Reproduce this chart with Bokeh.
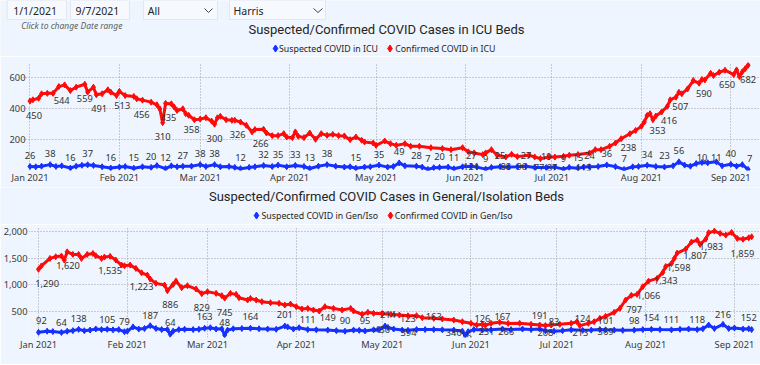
import numpy as np
from bokeh.plotting import figure
from bokeh.layouts import column
from bokeh.models import (ColumnDataSource, Range1d, FixedTicker, DatetimeTickFormatter,
                          NumeralTickFormatter, LabelSet)
from bokeh.core.properties import value
from bokeh.embed import file_html
from bokeh.resources import INLINE

START = np.datetime64("2021-01-01")

# ---------------- filter bar ----------------
filter_labels = ["1/1/2021", "9/7/2021", "All", "Harris"]
date_hint = "Click to change Date range"

# ---------------- ICU chart ----------------
icu_title = "Suspected/Confirmed COVID Cases in ICU Beds"
icu_names = ["Suspected COVID in ICU", "Confirmed COVID in ICU"]
icu_yticks = [200, 400, 600]

icu_conf_days = [0, 1, 3, 4, 6, 8, 10, 12, 14, 16, 19, 20, 22, 23, 25, 27, 28, 30, 31, 33, 36, 37, 39, 42,
                 44, 45, 46, 47, 49, 50, 51, 53, 54, 55, 57, 59, 61, 63, 64, 65, 66, 68, 70, 71, 73, 75,
                 77, 78, 81, 82, 84, 86, 88, 89, 91, 92, 93, 95, 97, 99, 101, 103, 105, 107, 109, 111,
                 113, 115, 116, 119, 120, 123, 125, 127, 130, 132, 135, 139, 143, 146, 150, 152, 154, 157,
                 158, 160, 162, 165, 167, 169, 173, 175, 177, 180, 182, 185, 187, 190, 194, 196, 198, 201,
                 203, 205, 208, 210, 212, 213, 214, 215, 216, 217, 219, 221, 222, 224, 225, 226, 228, 230,
                 232, 233, 234, 236, 237, 239, 241, 244, 245, 246, 247, 248, 249]
icu_conf = [450, 458, 468, 497, 500, 500, 544, 555, 518, 540, 559, 508, 540, 491, 497, 523, 508, 486, 513,
            486, 480, 465, 456, 443, 426, 400, 310, 435, 432, 411, 389, 400, 368, 358, 329, 333, 342, 320,
            300, 342, 351, 329, 325, 326, 314, 293, 250, 266, 267, 243, 226, 226, 239, 217, 213, 250, 222,
            213, 243, 202, 239, 228, 234, 226, 224, 200, 217, 196, 185, 178, 163, 191, 174, 163, 174, 157,
            157, 148, 142, 135, 148, 121, 114, 103, 114, 135, 99, 88, 105, 90, 99, 88, 77, 88, 87, 92, 99,
            103, 113, 135, 135, 157, 178, 206, 238, 260, 286, 314, 357, 368, 329, 353, 379, 416, 458, 475,
            507, 497, 529, 583, 566, 590, 587, 630, 615, 637, 650, 622, 652, 609, 640, 660, 682]

icu_susp_days = [0, 2, 4, 7, 9, 11, 14, 16, 18, 20, 22, 25, 28, 31, 33, 36, 39, 42, 44, 47, 49, 51, 53,
                 56, 59, 61, 64, 66, 69, 71, 73, 76, 78, 81, 84, 86, 89, 92, 95, 97, 100, 103, 106, 109,
                 111, 113, 116, 118, 121, 124, 126, 128, 130, 134, 136, 138, 140, 142, 145, 147, 150, 153,
                 155, 158, 160, 163, 166, 169, 172, 175, 179, 182, 185, 187, 190, 192, 194, 197, 200, 203,
                 206, 209, 211, 214, 217, 220, 223, 225, 227, 229, 231, 233, 235, 238, 240, 243, 245, 247, 249]
icu_susp = [26, 24, 28, 38, 26, 30, 16, 28, 34, 37, 33, 24, 16, 22, 26, 15, 24, 20, 32, 12, 30, 24, 27,
            28, 38, 26, 38, 24, 26, 20, 12, 20, 24, 32, 26, 35, 24, 33, 26, 13, 28, 38, 28, 22, 24, 15,
            22, 24, 35, 22, 26, 49, 30, 28, 22, 7, 18, 20, 22, 11, 24, 27, 22, 9, 20, 25, 22, 24, 27, 20,
            19, 22, 9, 20, 15, 22, 24, 26, 36, 25, 7, 24, 26, 34, 26, 23, 30, 56, 35, 28, 45, 52, 50, 56,
            30, 40, 28, 38, 7]

# data labels shown on the ICU chart
icu_susp_lab_days = [0, 7, 14, 20, 28, 36, 42, 47, 53, 59, 64, 73, 81, 86, 92, 97, 103, 113, 121, 128,
                     134, 138, 142, 147, 153, 158, 163, 172, 179, 185, 190, 194, 200, 206, 214, 220, 225,
                     233, 238, 243, 249.5]
icu_susp_lab_vals = [26, 38, 16, 37, 16, 15, 20, 12, 27, 38, 38, 12, 32, 35, 33, 13, 38, 15, 35, 49, 28,
                     7, 20, 11, 27, 9, 25, 27, 19, 9, 15, 24, 36, 7, 34, 23, 56, 10, 11, 40, 7]
icu_conf_lab_days = [1.4, 11, 19, 24, 32, 38.7, 46, 48, 56, 64, 72, 80, 207.5, 217.6, 221.6, 225.5,
                     233.7, 241.7, 249]
icu_conf_lab_vals = [450, 544, 559, 491, 513, 456, 310, 435, 358, 300, 326, 266, 238, 353, 416, 507,
                     590, 650, 682]
icu_conf_on_days = [153, 165, 170.5, 176.5, 181, 192]
icu_conf_on_vals = [121, 88, 90, 77, 87, 113]

# ---------------- General / Isolation chart ----------------
gen_title = "Suspected/Confirmed COVID Cases in General/Isolation Beds"
gen_names = ["Suspected COVID in Gen/Iso", "Confirmed COVID in Gen/Iso"]
gen_yticks = [500, 1000, 1500, 2000]

gen_conf_days = [0, 1, 4, 6, 8, 9, 10, 12, 14, 15, 17, 19, 20, 22, 23, 25, 27, 29, 30, 32, 34, 36, 38,
                 39, 41, 44, 45, 47, 48, 50, 52, 55, 57, 59, 62, 64, 65, 67, 69, 70, 73, 74, 76, 78, 81,
                 84, 86, 88, 90, 92, 94, 96, 98, 100, 103, 106, 109, 110, 113, 115, 117, 120, 123, 126,
                 129, 132, 134, 138, 141, 145, 148, 151, 153, 155, 156, 158, 161, 164, 168, 172, 175, 177,
                 179, 182, 186, 188, 189, 192, 194, 196, 198, 201, 203, 205, 207, 209, 211, 213, 216, 218,
                 219, 221, 222, 223, 226, 228, 230, 231, 233, 234, 236, 238, 240, 242, 244, 246, 248, 249]
gen_conf = [1290, 1354, 1496, 1527, 1540, 1465, 1620, 1572, 1572, 1496, 1572, 1590, 1547, 1496, 1521,
            1535, 1465, 1370, 1358, 1370, 1307, 1223, 1181, 1106, 1024, 992, 886, 1005, 1068, 942, 980,
            917, 829, 866, 835, 791, 745, 835, 816, 753, 709, 740, 709, 677, 658, 646, 614, 633, 583, 539,
            551, 520, 501, 583, 551, 520, 551, 501, 438, 476, 457, 450, 438, 425, 410, 413, 375, 362, 350,
            330, 299, 268, 236, 249, 231, 268, 287, 266, 268, 249, 236, 225, 236, 249, 268, 299, 224, 268,
            299, 362, 400, 476, 551, 709, 797, 816, 961, 1066, 1118, 1232, 1343, 1400, 1496, 1598, 1673,
            1807, 1843, 1761, 1862, 1983, 2013, 1969, 1937, 1988, 1875, 1859, 1887, 1906]

gen_susp_days = [0, 3, 5, 8, 10, 12, 14, 16, 18, 20, 22, 24, 26, 28, 30, 31, 33, 35, 37, 39, 41, 43, 45,
                 46, 47, 49, 51, 54, 56, 58, 60, 62, 64, 65, 66, 68, 71, 74, 77, 80, 83, 86, 87, 89, 91,
                 94, 97, 101, 104, 107, 110, 112, 114, 117, 119, 121, 122, 124, 127, 129, 132, 135, 138,
                 141, 145, 148, 149, 150, 152, 155, 158, 162, 165, 169, 172, 175, 177, 180, 183, 186, 190,
                 193, 196, 198, 201, 204, 208, 211, 214, 217, 221, 224, 227, 230, 232, 234, 236, 239, 241,
                 243, 246, 248, 249]
gen_susp = [98, 120, 112, 95, 118, 130, 154, 128, 140, 161, 150, 155, 145, 150, 110, 120, 200, 160, 170,
            224, 170, 150, 150, 60, 120, 150, 155, 150, 155, 175, 185, 160, 165, 47, 140, 165, 170, 175,
            165, 160, 155, 217, 200, 160, 185, 150, 145, 140, 130, 120, 140, 135, 125, 145, 150, 217, 190,
            160, 140, 135, 150, 150, 150, 145, 140, 120, 47, 110, 150, 140, 145, 160, 150, 160, 150, 160,
            130, 120, 130, 145, 135, 140, 150, 145, 140, 135, 140, 150, 154, 150, 145, 155, 160, 150, 165,
            236, 170, 249, 170, 180, 160, 165, 150]

# data labels shown on the General/Isolation chart
gen_susp_lab_days = [1, 8, 14, 24, 30, 39, 46, 58, 65, 74, 86, 94, 101, 107, 114, 122, 129, 138, 155,
                     162, 175, 180, 190, 198, 208, 214, 221, 230, 239, 248]
gen_susp_lab_vals = [92, 64, 138, 105, 79, 187, 64, 163, 48, 164, 201, 111, 149, 90, 95, 214, 123, 163,
                     126, 167, 191, 83, 124, 101, 98, 154, 111, 118, 216, 152]
gen_conf_lab_days = [3, 10.3, 25, 36, 46, 57, 65, 208, 213, 219, 223.5, 229.3, 234.9, 245.8]
gen_conf_lab_vals = [1290, 1620, 1535, 1223, 886, 829, 745, 797, 1066, 1343, 1598, 1807, 1983, 1859]
gen_conf_on_days = [120, 129.2, 145, 149.4, 156.4, 163.3, 177, 189.2, 198]
gen_conf_on_vals = [430, 394, 340, 16, 231, 266, 208, 213, 369]

# ---------------- styling ----------------
BG = "#EEF5FE"
RED = "#FF0A0A"
BLUE = "#1530FF"
TXT = "#252423"
LBL = "#333333"
FONT = "Noto Sans"
TFONT = "Roboto"
W = 760


def to_dt(days):
    return START + (np.asarray(days, dtype=float) * 86400000).astype("timedelta64[ms]")


def to_ms(days):
    return float((to_dt([days])[0] - np.datetime64("1970-01-01")).astype("timedelta64[ms]").astype(np.int64))


month_ticks = [float((np.datetime64("2021-%02d-01" % m) - np.datetime64("1970-01-01"))
                     .astype("timedelta64[ms]").astype(np.int64)) for m in range(1, 10)]


def label_rows(days, vals, dy, anchor=None):
    days = np.asarray(days, dtype=float)
    if anchor is None:
        y = np.asarray(vals, dtype=float)
    else:
        y = np.interp(days, np.asarray(anchor[0], float), np.asarray(anchor[1], float))
    return dict(x=list(to_dt(days)), y=list(y), text=["{:,}".format(v) for v in vals], dy=[dy] * len(days))


def merge(*parts):
    out = dict(x=[], y=[], text=[], dy=[])
    for p in parts:
        for k in out:
            out[k] += p[k]
    return out


def strip(height):
    """A plain drawing strip whose data units are its own pixels (y downwards)."""
    s = figure(width=W, height=height, x_range=Range1d(0, W), y_range=Range1d(height, 0),
               output_backend="svg", toolbar_location=None, min_border=0, title=None,
               x_axis_location=None, y_axis_location=None, frame_align=False,
               background_fill_color=BG, border_fill_color=BG, outline_line_color=None)
    s.grid.visible = False
    return s


def draw_title_legend(s, title, title_y, names, legend_y, mark_x, text_x):
    s.text(x=[386], y=[title_y], text=[title], text_align="center", text_baseline="middle",
           text_font=value(TFONT), text_font_size="13px", text_color=TXT)
    s.scatter(x=mark_x, y=[legend_y] * 2, marker="diamond", size=7, color=[BLUE, RED])
    s.text(x=text_x, y=[legend_y] * 2, text=names, text_baseline="middle",
           text_font=value(FONT), text_font_size="8.8px", text_color=TXT)


def make_chart(height, min_left, y_standoff, x_start, x_end, min_top, min_bottom, ymax, yticks, yfmt,
               susp_d, susp_v, conf_d, conf_v, labels):
    p = figure(width=W, height=height, x_axis_type="datetime", title=None,
               x_range=Range1d(to_ms(x_start), to_ms(x_end)), y_range=Range1d(0, ymax),
               output_backend="svg", toolbar_location=None, frame_align=False,
               min_border_left=min_left, min_border_right=0, min_border_top=min_top,
               min_border_bottom=min_bottom, background_fill_color=BG, border_fill_color=BG,
               outline_line_color=None)

    s_src = ColumnDataSource(dict(x=to_dt(susp_d), y=np.asarray(susp_v, float)))
    c_src = ColumnDataSource(dict(x=to_dt(conf_d), y=np.asarray(conf_v, float)))
    p.line("x", "y", source=s_src, line_color=BLUE, line_width=3)
    p.scatter("x", "y", source=s_src, marker="diamond", size=6, color=BLUE)
    p.line("x", "y", source=c_src, line_color=RED, line_width=3)
    p.scatter("x", "y", source=c_src, marker="diamond", size=6, color=RED)

    lab = LabelSet(x="x", y="y", text="text", y_offset="dy", source=ColumnDataSource(labels),
                   text_font=value(FONT), text_font_size=value("9.3px"), text_color=LBL,
                   text_align="center", text_baseline="middle")
    p.add_layout(lab)

    p.xaxis.ticker = FixedTicker(ticks=month_ticks)
    fmt = "%b %Y"
    p.xaxis.formatter = DatetimeTickFormatter(days=fmt, months=fmt, years=fmt, hours=fmt,
                                              minutes=fmt, seconds=fmt)
    p.yaxis.ticker = FixedTicker(ticks=yticks)
    if yfmt:
        p.yaxis.formatter = NumeralTickFormatter(format=yfmt)
    for ax in (p.xaxis[0], p.yaxis[0]):
        ax.axis_line_color = None
        ax.major_tick_line_color = None
        ax.minor_tick_line_color = None
        ax.major_tick_out = 0
        ax.major_tick_in = 0
        ax.minor_tick_out = 0
        ax.minor_tick_in = 0
        ax.major_label_text_font = FONT
        ax.major_label_text_font_size = "9.3px"
        ax.major_label_text_color = "#3B3A39"
    p.xaxis.major_label_standoff = 0
    p.yaxis.major_label_standoff = y_standoff
    p.grid.grid_line_color = "#9E9E9E"
    p.grid.grid_line_dash = "1 2"
    p.grid.grid_line_width = 1
    return p


# ---------------- header: filters, ICU title and legend ----------------
hdr = strip(56)
hdr.quad(left=[6.7, 70, 143, 229], right=[66, 129, 217, 325], top=[0] * 4, bottom=[19] * 4,
         fill_color="#F6F9FE", line_color="#E1E7EF", line_width=1)
hdr.text(x=[12.7, 75, 147.3, 233], y=[10] * 4, text=filter_labels, text_baseline="middle",
         text_font=value(FONT), text_font_size="10.5px", text_color=TXT)
hdr.multi_line(xs=[[204, 208, 212], [313, 317.5, 322]], ys=[[8, 12, 8], [8, 12, 8]],
               line_color="#444444", line_width=1)
hdr.text(x=[20.7], y=[25], text=[date_hint], text_baseline="middle", text_font=value(FONT),
         text_font_size="8.5px", text_font_style="italic", text_color="#605E5C")
draw_title_legend(hdr, icu_title, 29, icu_names, 48, [275, 389.5], [278.5, 394.7])

icu_labels = merge(
    label_rows(icu_susp_lab_days, icu_susp_lab_vals, 11),
    label_rows(icu_conf_lab_days, icu_conf_lab_vals, -14),
    label_rows(icu_conf_on_days, icu_conf_on_vals, 0, anchor=(icu_susp_days, icu_susp)),
)
p1 = make_chart(131, 22, -3, -2.6, 253.3, 6, 17, 700, icu_yticks, None,
                icu_susp_days, icu_susp, icu_conf_days, icu_conf, icu_labels)

# ---------------- second title and legend ----------------
hdr2 = strip(37)
draw_title_legend(hdr2, gen_title, 9, gen_names, 28, [256, 390], [261, 394.3])

gen_labels = merge(
    label_rows(gen_susp_lab_days, gen_susp_lab_vals, 12),
    label_rows(gen_conf_lab_days, gen_conf_lab_vals, -14),
    label_rows(gen_conf_on_days, gen_conf_on_vals, -2, anchor=(gen_susp_days, gen_susp)),
)
p2 = make_chart(140, 26, 1, -3.5, 252.1, 2, 27, 2100, gen_yticks, "0,0",
                gen_susp_days, gen_susp, gen_conf_days, gen_conf, gen_labels)

layout = column(hdr, p1, hdr2, p2, spacing=0)
open("out.html", "w").write(file_html(layout, INLINE))
